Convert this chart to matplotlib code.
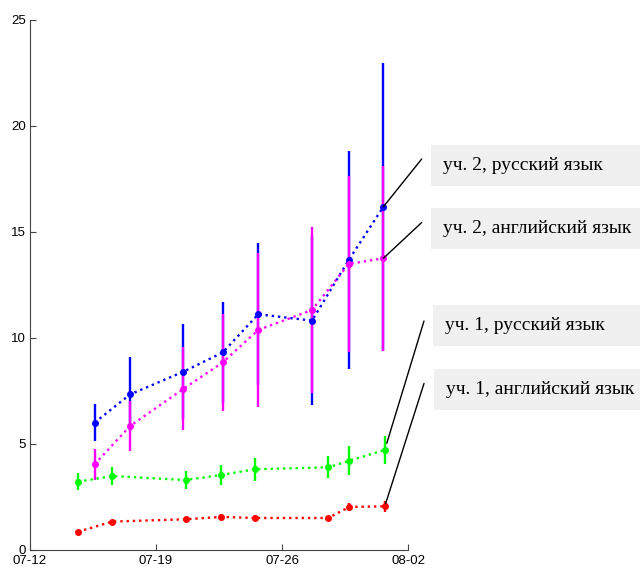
import pandas as pd
import matplotlib.pyplot as plt
import matplotlib.dates as mdates
from matplotlib.patches import Rectangle

# даты замеров (у двух участков немного разное время)
dates_1 = pd.to_datetime(["2014-07-14 16:00", "2014-07-16 13:30", "2014-07-20 15:30", "2014-07-22 15:00",
                          "2014-07-24 12:00", "2014-07-28 13:40", "2014-07-29 17:45", "2014-07-31 17:00"])
dates_2 = pd.to_datetime(["2014-07-15 14:10", "2014-07-17 13:30", "2014-07-20 12:30", "2014-07-22 17:00",
                          "2014-07-24 16:20", "2014-07-27 16:00", "2014-07-29 17:00", "2014-07-31 15:10"])

# уч. 2
ru_2 = [6.01, 7.34, 8.41, 9.32, 11.12, 10.82, 13.68, 16.19]
ru_2_err = [0.87, 1.75, 2.25, 2.38, 3.35, 4.0, 5.16, 6.78]
en_2 = [4.04, 5.85, 7.60, 8.85, 10.38, 11.32, 13.49, 13.76]
en_2_err = [0.73, 1.16, 1.96, 2.3, 3.65, 3.93, 4.13, 4.35]

# уч. 1
ru_1 = [3.22, 3.49, 3.30, 3.54, 3.81, 3.90, 4.21, 4.72]
ru_1_err = [0.39, 0.43, 0.44, 0.49, 0.55, 0.52, 0.68, 0.65]
en_1 = [0.86, 1.34, 1.45, 1.56, 1.51, 1.51, 2.03, 2.06]
en_1_err = [0.05, 0.08, 0.08, 0.15, 0.12, 0.1, 0.17, 0.27]

labels = ["уч. 2, русский язык", "уч. 2, английский язык",
          "уч. 1, русский язык", "уч. 1, английский язык"]

fig = plt.figure(figsize=(6.4, 5.68), dpi=100)
ax = fig.add_axes([30 / 640, 18 / 568, 378 / 640, 530 / 568])

series = [
    (dates_2, ru_2, ru_2_err, "#0000ff"),
    (dates_2, en_2, en_2_err, "#ff00ff"),
    (dates_1, ru_1, ru_1_err, "#00ff00"),
    (dates_1, en_1, en_1_err, "#ff0000"),
]
for d, y, e, c in series:
    ax.errorbar(d, y, yerr=e, fmt="none", ecolor=c, elinewidth=1.7, capsize=0)
for d, y, e, c in series:
    ax.plot(d, y, linestyle=":", linewidth=1.7, color=c, marker="o", markersize=4)

ax.set_xlim(pd.Timestamp("2014-07-12"), pd.Timestamp("2014-08-02"))
ax.set_ylim(0, 25)
ax.set_yticks([0, 5, 10, 15, 20, 25])
ax.set_xticks(pd.to_datetime(["2014-07-12", "2014-07-19", "2014-07-26", "2014-08-02"]))
ax.xaxis.set_major_formatter(mdates.DateFormatter("%m-%d"))
ax.tick_params(direction="in", length=4, color="#444444", labelsize=9.5)
ax.tick_params(axis="x", pad=3.5)
ax.tick_params(axis="y", pad=3)
for lab in ax.get_xticklabels() + ax.get_yticklabels():
    lab.set_fontfamily("Liberation Sans")
for lab in ax.get_yticklabels():
    lab.set_verticalalignment("center_baseline")
ax.spines["top"].set_visible(False)
ax.spines["right"].set_visible(False)
for s in ["left", "bottom"]:
    ax.spines[s].set_color("#444444")

# подписи в серых плашках справа и линии-выноски к последним точкам
H = 568
boxes = [(431, 145, 443, 421.7, 159, 0), (431, 208, 443, 421.7, 222.5, 0),
         (433, 305, 445, 424, 321, 5), (434, 369, 446, 424, 383.5, 2)]
for (d, y, e, c), lab, (bx, by, tx, lx, ly, gap) in zip(series, labels, boxes):
    fig.add_artist(Rectangle((bx / 640, (H - by - 41) / H), (640 - bx) / 640, 41 / H,
                             transform=fig.transFigure, facecolor="#f0f0f0", edgecolor="none"))
    fig.text(tx / 640, (H - by - 20.5) / H, lab, fontsize=14, family="Liberation Serif",
             va="center", ha="left")
    ax.annotate("", xy=(d[-1], y[-1]), xycoords="data", xytext=(lx, H - ly),
                textcoords="figure pixels", annotation_clip=False,
                arrowprops=dict(arrowstyle="-", color="black", lw=1, shrinkA=0, shrinkB=gap))

plt.savefig("out.png", dpi=100)
